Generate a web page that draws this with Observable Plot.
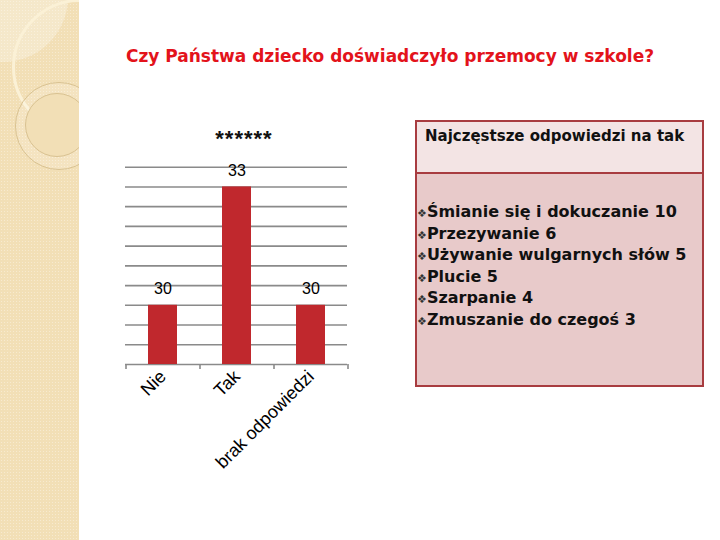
<!DOCTYPE html>
<html>
<head>
<meta charset="utf-8">
<script src="https://cdn.jsdelivr.net/npm/d3@7"></script>
<script src="https://cdn.jsdelivr.net/npm/@observablehq/plot@0.6"></script>
<style>
  html, body { margin: 0; padding: 0; background: #fff; }
  #page { position: relative; width: 720px; height: 540px; overflow: hidden; background: #fff; }
  #strip { position: absolute; left: 0; top: 0; width: 79px; height: 540px; overflow: hidden;
    background-color: #f2dfb6;
    background-image: radial-gradient(rgba(255,255,255,0.35) 0.8px, transparent 1px);
    background-size: 3px 3px; }
  .circ { position: absolute; border-radius: 50%; box-sizing: border-box; }
  #title { position: absolute; left: 0; width: 780px; top: 46px; text-align: center;
    font-family: "DejaVu Sans", sans-serif; font-weight: bold; font-size: 17px; color: #e3131b; }
  #ctitle { position: absolute; left: 194px; width: 100px; top: 126px; text-align: center;
    font-family: "Liberation Sans", Arial, sans-serif; font-weight: bold; font-size: 22px; letter-spacing: 1px; color: #111; }
  #chart { position: absolute; left: 100px; top: 140px; }
  #box { position: absolute; left: 415px; top: 120px; width: 289px; height: 267px; box-sizing: border-box;
    border: 2px solid #a83c40; background: #e8caca; }
  #boxhead { height: 52px; background: #f3e4e4; border-bottom: 2px solid #a83c40; box-sizing: border-box;
    font-family: "DejaVu Sans", sans-serif; font-weight: bold; font-size: 15px; color: #111;
    padding: 5px 0 0 8px; }
  #boxbody { padding: 27px 0 0 0; font-family: "DejaVu Sans", sans-serif; font-weight: bold;
    font-size: 16px; color: #111; }
  #boxbody > div { height: 21.6px; line-height: 21.6px; white-space: nowrap; }
  .bul { font-size: 11px; font-weight: normal; color: #333; line-height: 1; }
</style>
</head>
<body>
<div id="page">
  <div id="strip">
    <div class="circ" style="left:-62px;top:-68px;width:130px;height:130px;background:rgba(255,255,255,0.28);"></div>
    <div class="circ" style="left:12px;top:-1px;width:136px;height:136px;border:3px solid #fbf1d6;"></div>
    <div class="circ" style="left:15px;top:82px;width:88px;height:88px;border:1.5px solid #d9c291;background:rgba(255,255,255,0.15);"></div>
    <div class="circ" style="left:25px;top:93px;width:64px;height:64px;border:1.5px solid #d9c291;background:#f2dfb6;"></div>
  </div>
  <div id="title"></div>
  <div id="ctitle"></div>
  <div id="chart"></div>
  <div id="box">
    <div id="boxhead"></div>
    <div id="boxbody"></div>
  </div>
</div>
<script>
// ---- data ----
const pageTitle = "Czy Państwa dziecko doświadczyło przemocy w szkole?";
const chartTitle = "******";
const categories = ["Nie", "Tak", "brak odpowiedzi"];
const values = [30, 33, 30];
const yDomain = [28.5, 33.5];
const yGridTicks = [28.5, 29, 29.5, 30, 30.5, 31, 31.5, 32, 32.5, 33, 33.5];
const boxHeader = "Najczęstsze odpowiedzi na tak";
const answerLabels = ["Śmianie się i dokuczanie", "Przezywanie", "Używanie wulgarnych słów", "Plucie", "Szarpanie", "Zmuszanie do czegoś"];
const answerCounts = [10, 6, 5, 5, 4, 3];

// ---- text ----
document.getElementById("title").textContent = pageTitle;
document.getElementById("ctitle").textContent = chartTitle;
document.getElementById("boxhead").textContent = boxHeader;
const body = document.getElementById("boxbody");
answerLabels.forEach((lab, i) => {
  const line = document.createElement("div");
  const b = document.createElement("span");
  b.className = "bul"; b.textContent = "❖";
  line.appendChild(b);
  line.appendChild(document.createTextNode(lab + " " + answerCounts[i]));
  body.appendChild(line);
});

// ---- chart ----
const data = categories.map((c, i) => ({cat: c, value: values[i]}));
const yMin = yDomain[0];
const gridColor = "#8a8a8a";
const W = 260, ML = 25, MR = 13;
const half = (W - ML - MR) / categories.length / 2;

const chart = Plot.plot({
  width: W, height: 350,
  marginLeft: ML, marginRight: MR, marginTop: 26.7, marginBottom: 126,
  style: {fontFamily: "'Liberation Sans', Arial, sans-serif", background: "transparent", color: "#000", overflow: "visible"},
  x: {domain: categories, paddingInner: 0.61, paddingOuter: 0.305, label: null},
  y: {domain: yDomain, axis: null},
  marks: [
    Plot.gridY(yGridTicks, {stroke: gridColor, strokeOpacity: 1, strokeWidth: 1.6}),
    Plot.barY(data, {x: "cat", y1: () => yMin, y2: "value", fill: "#c0282d"}),
    Plot.ruleX(categories, {x: d => d, y1: () => yMin, y2: () => yMin, dx: -half, insetBottom: -5, stroke: gridColor, strokeWidth: 1.6}),
    Plot.ruleX(categories.slice(-1), {x: d => d, y1: () => yMin, y2: () => yMin, dx: half, insetBottom: -5, stroke: gridColor, strokeWidth: 1.6}),
    Plot.text(data, {x: "cat", y: "value", text: d => String(d.value), dy: -16, fontSize: 16, fill: "#000"}),
    Plot.axisX({tickRotate: -45, tickSize: 0, tickPadding: 9, fontSize: 18, label: null})
  ]
});
document.getElementById("chart").appendChild(chart);
</script>
</body>
</html>
